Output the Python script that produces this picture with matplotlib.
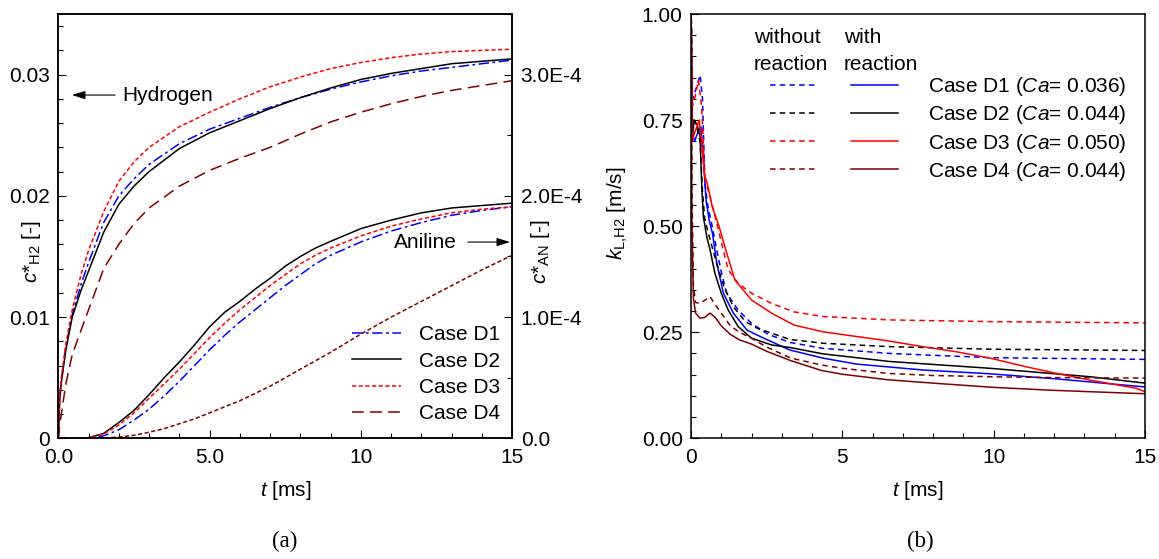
import numpy as np
import matplotlib
matplotlib.use("Agg")
import matplotlib.pyplot as plt
from matplotlib.ticker import MultipleLocator, FuncFormatter
from matplotlib.legend_handler import HandlerTuple

plt.rcParams["font.family"] = ["Liberation Sans", "DejaVu Sans"]
plt.rcParams["mathtext.fontset"] = "custom"
plt.rcParams["mathtext.rm"] = "Liberation Sans"
plt.rcParams["mathtext.it"] = "Liberation Sans:italic"
plt.rcParams["lines.scale_dashes"] = False
FS = 15

# ---------------- (a) dimensionless concentrations ----------------
t_a = [0, 0.05, 0.1, 0.25, 0.46, 0.75, 1.0, 1.5, 2.0, 2.5, 3.0, 4.0, 5.0,
       6.0, 7.0, 8.0, 9.0, 10.0, 11.0, 12.0, 13.0, 14.0, 15.0]
h2_d1 = [0, 0.0035, 0.0048, 0.0075, 0.0102, 0.0127, 0.0145, 0.0178, 0.0200,
         0.0214, 0.0226, 0.0243, 0.0255, 0.0264, 0.0273, 0.0281, 0.0288,
         0.0294, 0.0299, 0.0303, 0.0306, 0.0309, 0.0312]
h2_d2 = [0, 0.0033, 0.0046, 0.0073, 0.0100, 0.0122, 0.0138, 0.0170, 0.0193,
         0.0208, 0.0220, 0.0239, 0.0252, 0.0262, 0.0272, 0.0281, 0.0289,
         0.0296, 0.0301, 0.0305, 0.0309, 0.0311, 0.0313]
h2_d3 = [0, 0.0036, 0.0050, 0.0078, 0.0106, 0.0135, 0.0155, 0.0187, 0.0212,
         0.0228, 0.0240, 0.0257, 0.0269, 0.0280, 0.0290, 0.0298, 0.0305,
         0.0310, 0.0314, 0.0317, 0.0319, 0.0320, 0.0321]
h2_d4 = [0, 0.0012, 0.0020, 0.0045, 0.0069, 0.0089, 0.0106, 0.0140, 0.0160,
         0.0177, 0.0190, 0.0208, 0.0221, 0.0231, 0.0240, 0.0251, 0.0261,
         0.0269, 0.0276, 0.0282, 0.0287, 0.0291, 0.0295]

# aniline, in units of 1E-4
t_an = [0, 0.5, 1.0, 1.5, 2.0, 2.5, 3.0, 3.5, 4.0, 4.5, 5.0, 5.5, 6.0, 6.5,
        7.0, 7.5, 8.0, 8.5, 9.0, 10.0, 11.0, 12.0, 13.0, 14.0, 15.0]
an_d1 = [0, 0, 0.0, 0.02, 0.07, 0.15, 0.24, 0.35, 0.47, 0.60, 0.73, 0.85,
         0.96, 1.06, 1.16, 1.26, 1.35, 1.44, 1.51, 1.62, 1.71, 1.78, 1.84,
         1.88, 1.91]
an_d2 = [0, 0, 0.005, 0.04, 0.13, 0.23, 0.36, 0.50, 0.63, 0.77, 0.92, 1.04,
         1.13, 1.23, 1.32, 1.42, 1.50, 1.57, 1.625, 1.73, 1.80, 1.86, 1.90,
         1.92, 1.94]
an_d3 = [0, 0, 0.004, 0.035, 0.11, 0.21, 0.33, 0.45, 0.57, 0.70, 0.83, 0.95,
         1.06, 1.16, 1.26, 1.35, 1.44, 1.51, 1.57, 1.67, 1.75, 1.81, 1.86,
         1.89, 1.91]
an_d4 = [0, 0, 0.0, 0.003, 0.01, 0.025, 0.05, 0.08, 0.12, 0.16, 0.21, 0.26,
         0.31, 0.37, 0.43, 0.50, 0.57, 0.64, 0.71, 0.86, 1.00, 1.13, 1.26,
         1.39, 1.51]

cases = ["Case D1", "Case D2", "Case D3", "Case D4"]

# ---------------- (b) mass transfer coefficients ----------------
t_d1_r = [0, 0.04, 0.12, 0.22, 0.33, 0.44, 0.5, 0.6, 0.71, 0.85, 1.07, 1.4,
          1.85, 2.4, 3.27, 4.36, 5.46, 7.66, 9.88, 12.08, 15.0]
k_d1_r = [1.05, 0.72, 0.70, 0.72, 0.734, 0.625, 0.56, 0.514, 0.483, 0.413,
          0.342, 0.295, 0.255, 0.236, 0.208, 0.189, 0.175, 0.161, 0.152,
          0.140, 0.121]
t_d1_n = [0, 0.05, 0.15, 0.3, 0.38, 0.46, 0.55, 0.68, 0.85, 1.01, 1.18, 1.56,
          2.0, 2.55, 3.27, 4.36, 6.57, 9.88, 15.0]
k_d1_n = [1.05, 0.80, 0.82, 0.856, 0.80, 0.60, 0.55, 0.507, 0.444, 0.389,
          0.342, 0.302, 0.271, 0.245, 0.226, 0.212, 0.200, 0.190, 0.186]

t_d2_r = [0, 0.04, 0.1, 0.2, 0.3, 0.36, 0.41, 0.52, 0.63, 0.79, 1.0, 1.23,
          1.56, 2.0, 2.66, 3.27, 4.36, 6.57, 9.88, 13.2, 15.0]
k_d2_r = [1.05, 0.70, 0.75, 0.74, 0.711, 0.585, 0.522, 0.475, 0.444, 0.389,
          0.342, 0.302, 0.263, 0.236, 0.220, 0.214, 0.199, 0.181, 0.165,
          0.145, 0.130]
t_d2_n = [0, 0.04, 0.1, 0.2, 0.3, 0.38, 0.45, 0.55, 0.7, 0.9, 1.1, 1.4, 1.8,
          2.2, 3.27, 4.36, 6.57, 9.88, 15.0]
k_d2_n = [1.05, 0.72, 0.75, 0.73, 0.70, 0.58, 0.52, 0.49, 0.45, 0.40, 0.355,
          0.31, 0.275, 0.259, 0.233, 0.224, 0.216, 0.210, 0.207]

t_d3_r = [0, 0.04, 0.12, 0.27, 0.35, 0.45, 0.54, 0.7, 0.93, 1.15, 1.45, 2.0,
          2.66, 3.4, 4.36, 5.46, 6.57, 7.66, 8.76, 9.88, 10.98, 12.08, 13.2,
          14.7, 15.0]
k_d3_r = [1.05, 0.70, 0.72, 0.75, 0.70, 0.62, 0.60, 0.546, 0.499, 0.444,
          0.373, 0.326, 0.295, 0.267, 0.251, 0.240, 0.229, 0.216, 0.204,
          0.189, 0.170, 0.153, 0.137, 0.118, 0.110]
t_d3_n = [0, 0.04, 0.12, 0.25, 0.35, 0.41, 0.46, 0.63, 0.85, 1.01, 1.23,
          1.56, 2.0, 2.66, 3.4, 4.36, 6.57, 9.88, 15.0]
k_d3_n = [1.05, 0.78, 0.80, 0.844, 0.78, 0.695, 0.61, 0.57, 0.507, 0.46,
          0.397, 0.365, 0.342, 0.318, 0.298, 0.287, 0.279, 0.275, 0.272]

t_d4_r = [0, 0.03, 0.08, 0.15, 0.3, 0.45, 0.63, 0.8, 1.0, 1.3, 1.6, 2.0, 2.5,
          3.3, 4.3, 5.0, 6.5, 8.0, 10.0, 12.0, 15.0]
k_d4_r = [1.05, 0.50, 0.33, 0.295, 0.283, 0.285, 0.295, 0.285, 0.265, 0.245,
          0.232, 0.222, 0.205, 0.183, 0.160, 0.151, 0.138, 0.130, 0.120,
          0.113, 0.105]
t_d4_n = [0, 0.03, 0.08, 0.15, 0.3, 0.45, 0.63, 0.8, 1.0, 1.3, 1.6, 2.0, 2.5,
          3.3, 4.3, 5.0, 6.5, 8.0, 10.0, 12.0, 15.0]
k_d4_n = [1.05, 0.60, 0.36, 0.32, 0.318, 0.325, 0.334, 0.315, 0.295, 0.265,
          0.25, 0.236, 0.215, 0.189, 0.173, 0.165, 0.153, 0.148, 0.145,
          0.143, 0.142]

ca_numbers = ["0.036", "0.044", "0.050", "0.044"]

BLUE, BLACK, RED, DRED = "#0000ff", "#000000", "#ff0000", "#800000"
DASHDOT = (0, (7.5, 2.5, 2, 2.5))
SHORT = (0, (3, 1.8))
LONG = (0, (8.5, 4.5))
DASH_B = (0, (4, 3))
LW = 1.1

fig = plt.figure(figsize=(11.59, 5.59), dpi=100)
W, H = 1159, 559
def rect(x0, x1, ytop, ybot):
    return [x0 / W, 1 - ybot / H, (x1 - x0) / W, (ybot - ytop) / H]

ax = fig.add_axes(rect(58.3, 512.3, 14, 438.3))
ax2 = ax.twinx()

def style_axis(a):
    for s in a.spines.values():
        s.set_linewidth(1.1)
    a.tick_params(which="both", direction="in", width=0.8, labelsize=FS)
    a.tick_params(which="major", length=6)
    a.tick_params(which="minor", length=3.3)

# hydrogen
l1, = ax.plot(t_a, h2_d1, color=BLUE, lw=LW, linestyle=DASHDOT)
l2, = ax.plot(t_a, h2_d2, color=BLACK, lw=LW, linestyle="-")
l3, = ax.plot(t_a, h2_d3, color=RED, lw=LW, linestyle=SHORT)
l4, = ax.plot(t_a, h2_d4, color=DRED, lw=LW, linestyle=LONG)
# aniline
ax2.plot(t_an, an_d1, color=BLUE, lw=LW, linestyle=DASHDOT)
ax2.plot(t_an, an_d2, color=BLACK, lw=LW, linestyle="-")
ax2.plot(t_an, an_d3, color=RED, lw=LW, linestyle=SHORT)
ax2.plot(t_an, an_d4, color=DRED, lw=LW, linestyle=SHORT)

ax.set_xlim(0, 15)
ax.set_ylim(0, 0.035)
ax2.set_ylim(0, 3.5)
style_axis(ax)
style_axis(ax2)
ax.xaxis.set_major_locator(MultipleLocator(5))
ax.xaxis.set_minor_locator(MultipleLocator(1))
ax.yaxis.set_major_locator(MultipleLocator(0.01))
ax.yaxis.set_minor_locator(MultipleLocator(0.002))
ax2.yaxis.set_major_locator(MultipleLocator(1.0))
ax2.yaxis.set_minor_locator(MultipleLocator(0.5))
ax.xaxis.set_major_formatter(FuncFormatter(lambda v, p: f"{v:.1f}" if v < 10 else f"{v:.0f}"))
ax.yaxis.set_major_formatter(FuncFormatter(lambda v, p: "0" if abs(v) < 1e-12 else f"{v:.2f}"))
ax2.yaxis.set_major_formatter(FuncFormatter(lambda v, p: "0.0" if abs(v) < 1e-12 else f"{v:.1f}E-4"))
ax.tick_params(axis="x", which="both", top=False, pad=7)
ax.tick_params(axis="y", which="both", right=False, pad=6)
ax2.tick_params(axis="y", which="both", left=False, right=True, pad=6)

ax.set_xlabel(r"$t$ [ms]", fontsize=FS)
ax.xaxis.set_label_coords(0.5, -0.097)
ax.set_ylabel(r"$c$*$_{\mathregular{H2}}$ [-]", fontsize=FS)
ax.yaxis.set_label_coords(-0.033, 0.44)
ax2.set_ylabel(r"$c$*$_{\mathregular{AN}}$ [-]", fontsize=FS)
ax2.yaxis.set_label_coords(1.037, 0.44)

arrow_kw = dict(arrowstyle="-|>,head_length=0.8,head_width=0.25", color="black", lw=0.8,
                shrinkA=0, shrinkB=0)
ax.annotate("", xy=(0.030, 0.809), xytext=(0.125, 0.809), xycoords="axes fraction",
            arrowprops=arrow_kw)
ax.text(0.140, 0.809, "Hydrogen", transform=ax.transAxes, fontsize=FS,
        ha="left", va="center")
ax.annotate("", xy=(0.995, 0.4625), xytext=(0.902, 0.4625), xycoords="axes fraction",
            arrowprops=arrow_kw)
ax.text(0.739, 0.4625, "Aniline", transform=ax.transAxes, fontsize=FS,
        ha="left", va="center")

ax.legend([l1, l2, l3, l4], cases, loc="upper left", bbox_to_anchor=(0.648, 0.266),
          frameon=False, fontsize=FS, handlelength=2.35, handletextpad=0.85,
          labelspacing=0.35, borderpad=0, borderaxespad=0)

# ---------------- panel (b) ----------------
bx = fig.add_axes(rect(691, 1145, 14, 438.3))
colors = [BLUE, BLACK, RED, DRED]
series_n = [(t_d1_n, k_d1_n), (t_d2_n, k_d2_n), (t_d3_n, k_d3_n), (t_d4_n, k_d4_n)]
series_r = [(t_d1_r, k_d1_r), (t_d2_r, k_d2_r), (t_d3_r, k_d3_r), (t_d4_r, k_d4_r)]
handles = []
for c, (tn, kn), (tr, kr) in zip(colors, series_n, series_r):
    hn, = bx.plot(tn, kn, color=c, lw=LW, linestyle=DASH_B)
    hr, = bx.plot(tr, kr, color=c, lw=LW, linestyle="-")
    handles.append((hn, hr))

bx.set_xlim(0, 15)
bx.set_ylim(0, 1.0)
style_axis(bx)
bx.xaxis.set_major_locator(MultipleLocator(5))
bx.xaxis.set_minor_locator(MultipleLocator(1))
bx.yaxis.set_major_locator(MultipleLocator(0.25))
bx.yaxis.set_minor_locator(MultipleLocator(0.05))
bx.xaxis.set_major_formatter(FuncFormatter(lambda v, p: f"{v:.0f}"))
bx.yaxis.set_major_formatter(FuncFormatter(lambda v, p: f"{v:.2f}"))
bx.tick_params(axis="x", which="both", top=False, pad=7)
bx.tick_params(axis="y", which="both", right=False, pad=6)
bx.set_xlabel(r"$t$ [ms]", fontsize=FS)
bx.xaxis.set_label_coords(0.5, -0.097)
bx.set_ylabel(r"$k$$_{\mathregular{L{,}H2}}$ [m/s]", fontsize=FS)
bx.yaxis.set_label_coords(-0.135, 0.53)

labels_b = [f"{c} ($Ca$= {n})" for c, n in zip(cases, ca_numbers)]
bx.legend(handles, labels_b, handler_map={tuple: HandlerTuple(ndivide=None, pad=1.63)},
          loc="upper left", bbox_to_anchor=(0.173, 0.856), frameon=False,
          fontsize=FS, handlelength=6.15, handletextpad=1.47, labelspacing=0.25,
          borderpad=0, borderaxespad=0)
bx.text(0.139, 0.9456, "without", transform=bx.transAxes, fontsize=FS, ha="left", va="center")
bx.text(0.139, 0.882, "reaction", transform=bx.transAxes, fontsize=FS, ha="left", va="center")
bx.text(0.337, 0.9456, "with", transform=bx.transAxes, fontsize=FS, ha="left", va="center")
bx.text(0.337, 0.882, "reaction", transform=bx.transAxes, fontsize=FS, ha="left", va="center")

fig.text(285 / W, 1 - 541 / H, "(a)", family="Liberation Serif", fontsize=16.5,
         ha="center", va="center")
fig.text(920 / W, 1 - 541 / H, "(b)", family="Liberation Serif", fontsize=16.5,
         ha="center", va="center")

fig.savefig("out.png", dpi=100)
